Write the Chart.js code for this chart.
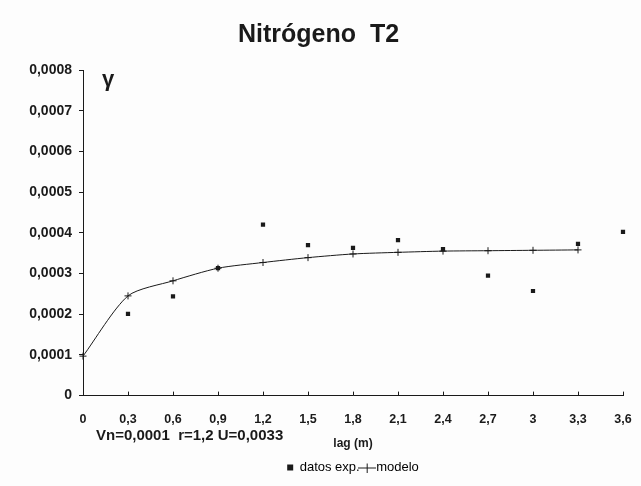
<!DOCTYPE html>
<html>
<head>
<meta charset="utf-8">
<title>Nitrógeno T2</title>
<script src="https://cdn.jsdelivr.net/npm/chart.js@4.4.0/dist/chart.umd.min.js"></script>
<style>
  body { margin: 0; background: #fdfdfd; }
  #wrap { width: 641px; height: 486px; }
</style>
</head>
<body>
<div id="wrap"><canvas id="myChart" width="641" height="486"></canvas></div>
<script>
// lag (m) categories
var lags = ["0", "0,3", "0,6", "0,9", "1,2", "1,5", "1,8", "2,1", "2,4", "2,7", "3", "3,3", "3,6"];
// experimental semivariogram
var datosExp = [null, 0.000201, 0.000244, 0.000313, 0.00042, 0.00037, 0.000363, 0.000382, 0.00036, 0.000295, 0.000257, 0.000373, 0.000402];
// fitted model
var modelo = [0.000097, 0.000245, 0.000282, 0.000313, 0.000327, 0.000339, 0.000348, 0.000352, 0.000355, 0.000356, 0.000357, 0.000358, null];
var yTicks = [0, 0.0001, 0.0002, 0.0003, 0.0004, 0.0005, 0.0006, 0.0007, 0.0008];

var fontFam = "Arial, 'Liberation Sans', sans-serif";
var ink = '#1a1a1a';

// legend icon for the model: short line with a cross
var crossIcon = document.createElement('canvas');
crossIcon.width = 18; crossIcon.height = 10;
var ic = crossIcon.getContext('2d');
ic.strokeStyle = ink; ic.lineWidth = 1;
ic.beginPath();
ic.moveTo(0, 5.5); ic.lineTo(18, 5.5);
ic.moveTo(9.5, 1); ic.lineTo(9.5, 10);
ic.stroke();

// gamma symbol, model parameters and the inward x tick marks
var extraText = {
  id: 'extraText',
  afterDraw: function(chart) {
    var c = chart.ctx;
    var xs = chart.scales.x;
    c.save();
    c.strokeStyle = ink;
    c.lineWidth = 1;
    c.beginPath();
    for (var i = 0; i < xs.ticks.length; i++) {
      var px = Math.round(xs.getPixelForTick(i)) + 0.5;
      c.moveTo(px, xs.top);
      c.lineTo(px, xs.top - 4);
    }
    c.stroke();
    c.fillStyle = ink;
    c.textBaseline = 'middle';
    c.textAlign = 'left';
    c.font = 'bold 22px ' + fontFam;
    c.fillText('γ', 102, 80);
    c.font = 'bold 15px ' + fontFam;
    c.fillText('Vn=0,0001  r=1,2 U=0,0033', 96, 436);
    c.restore();
  }
};

var ctx = document.getElementById('myChart').getContext('2d');
var chart = new Chart(ctx, {
  type: 'line',
  data: {
    labels: lags,
    datasets: [{
      label: 'datos exp.',
      data: datosExp,
      showLine: false,
      pointStyle: 'rect',
      pointRadius: 3,
      backgroundColor: ink,
      borderColor: ink,
      borderWidth: 0
    }, {
      label: 'modelo',
      data: modelo,
      borderColor: ink,
      backgroundColor: ink,
      borderWidth: 1,
      tension: 0.25,
      pointStyle: 'cross',
      pointRadius: 3.5,
      pointBorderWidth: 1,
      spanGaps: false
    }]
  },
  options: {
    responsive: false,
    animation: false,
    layout: { padding: { left: 0, right: 4, top: 0, bottom: 2 } },
    plugins: {
      title: {
        display: true,
        text: 'Nitrógeno  T2',
        color: ink,
        font: { family: fontFam, size: 25, weight: 'bold' },
        padding: { top: 20, bottom: 20 }
      },
      legend: {
        position: 'bottom',
        fullSize: false,
        labels: {
          color: ink,
          font: { family: fontFam, size: 13 },
          usePointStyle: true,
          boxWidth: 6,
          boxHeight: 6,
          padding: 4,
          generateLabels: function(ch) {
            return [
              { text: 'datos exp.', pointStyle: 'rect', fillStyle: ink, strokeStyle: ink, lineWidth: 0, datasetIndex: 0 },
              { text: 'modelo', pointStyle: crossIcon, fillStyle: ink, strokeStyle: ink, lineWidth: 1, datasetIndex: 1 }
            ];
          }
        }
      },
      tooltip: { enabled: false }
    },
    scales: {
      x: {
        type: 'category',
        offset: false,
        afterFit: function(scale) {
          scale.paddingLeft = 0;
          scale.paddingRight = 18;
        },
        grid: { drawOnChartArea: false, drawTicks: false },
        border: { color: ink, width: 1 },
        ticks: {
          color: ink,
          font: { family: fontFam, size: 12.5, weight: 'bold' },
          maxRotation: 0,
          autoSkip: false,
          padding: 16
        },
        title: {
          display: true,
          text: 'lag (m)',
          color: ink,
          font: { family: fontFam, size: 12, weight: 'bold' },
          padding: { top: -6, bottom: 6 }
        }
      },
      y: {
        min: 0,
        max: 0.0008,
        afterBuildTicks: function(scale) {
          scale.ticks = yTicks.map(function(v) { return { value: v }; });
        },
        afterFit: function(scale) {
          scale.width = 83;
        },
        grid: { drawOnChartArea: false, drawTicks: true, tickLength: 4, color: ink },
        border: { color: ink, width: 1 },
        ticks: {
          color: ink,
          font: { family: fontFam, size: 14, weight: 'bold' },
          padding: 7,
          callback: function(v) {
            return v === 0 ? '0' : v.toFixed(4).replace('.', ',');
          }
        }
      }
    }
  },
  plugins: [extraText]
});
</script>
</body>
</html>
